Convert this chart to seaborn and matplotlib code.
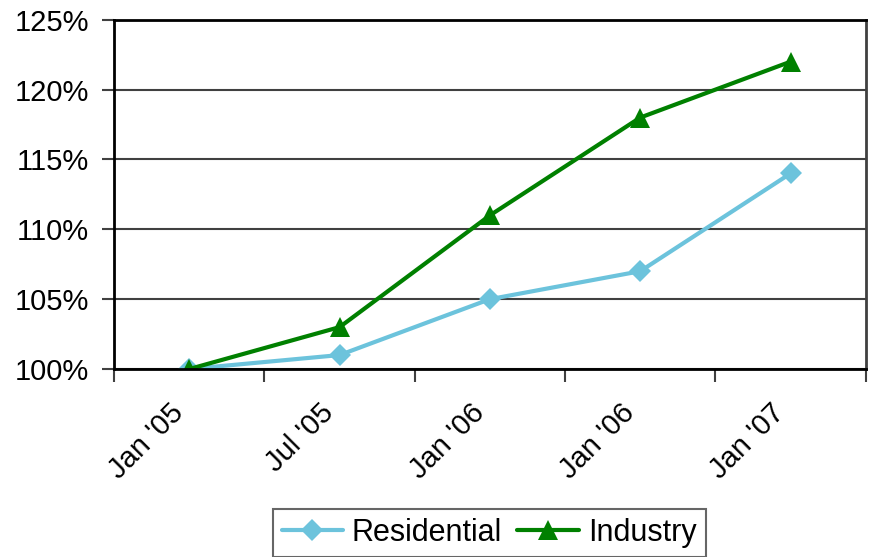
import pandas as pd
import numpy as np
import matplotlib
matplotlib.use('Agg')
import matplotlib.pyplot as plt
import matplotlib.transforms as mtransforms
import seaborn as sns
from matplotlib.lines import Line2D

periods = ["Jan '05", "Jul '05", "Jan '06", "Jan '06", "Jan '07"]
residential = [100, 101, 105, 107, 114]
industry = [100, 103, 111, 118, 122]

df = pd.DataFrame({
    'pos': list(range(len(periods))) * 2,
    'value': residential + industry,
    'series': ['Residential'] * len(periods) + ['Industry'] * len(periods),
})

sns.set_style('white')
plt.rcParams['font.family'] = ['Liberation Sans', 'DejaVu Sans']
plt.rcParams['text.color'] = 'black'
plt.rcParams['xtick.color'] = 'black'
plt.rcParams['ytick.color'] = 'black'

colors = {'Residential': '#6CC3DC', 'Industry': '#008000'}
markers = {'Residential': 'D', 'Industry': '^'}
msizes = {'Residential': 11, 'Industry': 15}

fig = plt.figure(figsize=(8.78, 5.57), dpi=100)
ax = fig.add_axes([0.130, 0.3375, 0.856, 0.627])

sns.lineplot(data=df, x='pos', y='value', hue='series', style='series',
             palette=colors, markers=markers, dashes=False, linewidth=3,
             markersize=msizes['Residential'], markeredgewidth=0, ax=ax,
             legend=False)
# triangles are a bit bigger than the diamonds
for line in ax.get_lines():
    if line.get_marker() == '^':
        line.set_markersize(msizes['Industry'])

ax.set_xlim(-0.5, len(periods) - 0.5)
ax.set_ylim(100, 125)
ax.set_yticks(range(100, 126, 5))
ax.set_yticklabels([f'{v}%' for v in range(100, 126, 5)], fontsize=21)
ax.yaxis.grid(True, color='#404040', linewidth=1.5)
ax.set_xticks(np.arange(-0.5, len(periods), 1.0))
ax.set_xticklabels([])
ax.set_xticks(range(len(periods)), minor=True)
ax.set_xticklabels(periods, minor=True, rotation=45, ha='right',
                   rotation_mode='anchor', fontsize=21)
ax.tick_params(axis='x', which='minor', bottom=False, length=0, pad=21)
ax.tick_params(axis='both', which='major', bottom=True, left=True, length=9,
               width=1.5, color='#404040', direction='out')
ax.tick_params(axis='y', which='major', pad=9)
ax.set_xlabel('')
ax.set_ylabel('')

# labels sit a little left of the point they belong to
shift = mtransforms.ScaledTranslation(-0.2, 0, fig.dpi_scale_trans)
for lab in ax.get_xticklabels(minor=True):
    lab.set_transform(lab.get_transform() + shift)

for side in ['left', 'top', 'bottom']:
    ax.spines[side].set_color('black')
    ax.spines[side].set_linewidth(2)
ax.spines['right'].set_color('#404040')
ax.spines['right'].set_linewidth(2)

handles = [
    Line2D([], [], color=colors[s], marker=markers[s], linewidth=3,
           markersize=msizes[s], markeredgewidth=0)
    for s in ['Residential', 'Industry']
]
leg = fig.legend(handles, ['Residential', 'Industry'], loc='upper center',
                 bbox_to_anchor=(0.557, 1 - 509 / 557), ncol=2, fontsize=22,
                 frameon=True, fancybox=False, edgecolor='#404040',
                 handlelength=2.0, handletextpad=0.3, columnspacing=0.5,
                 borderpad=0.3, borderaxespad=0)
leg.get_frame().set_linewidth(1.5)

fig.savefig('out.png', dpi=100)
